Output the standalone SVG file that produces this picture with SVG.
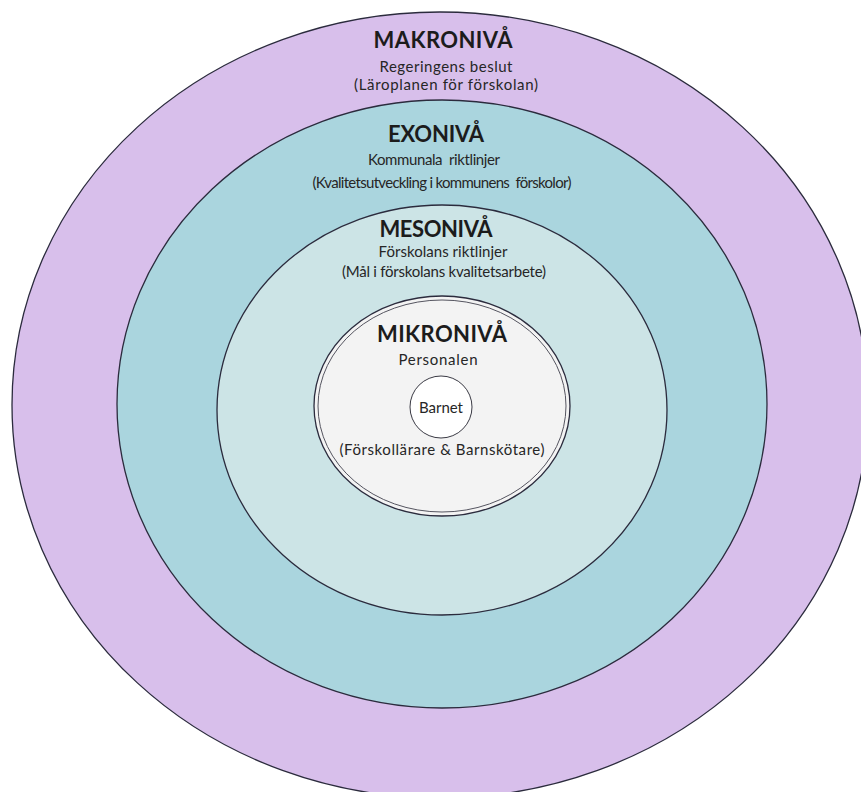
<svg xmlns="http://www.w3.org/2000/svg" width="861" height="792" viewBox="0 0 861 792">
<style>
.ring{stroke:#2b2b3d;stroke-width:1.3}
.h{font-family:Lato,"Open Sans","Liberation Sans",sans-serif;font-weight:bold;font-size:22px;fill:#1c1c1c;text-anchor:middle}
.t{font-family:Lato,"Open Sans","Liberation Sans",sans-serif;font-size:15px;fill:#262626;text-anchor:middle;white-space:pre}
</style>
<rect width="861" height="792" fill="#ffffff"/>
<g id="makro">
<ellipse class="ring" cx="440" cy="405" rx="428" ry="393" fill="#d8bfeb"/>
<text class="h" x="443" y="48" textLength="139">MAKRONIVÅ</text>
<text class="t" x="446" y="72" textLength="133">Regeringens beslut</text>
<text class="t" x="446" y="90" textLength="184">(Läroplanen för förskolan)</text>
</g>
<g id="exo">
<ellipse class="ring" cx="442" cy="404" rx="325" ry="304" fill="#aad5de"/>
<text class="h" x="436" y="142" textLength="96">EXONIVÅ</text>
<text class="t" x="434" y="165" textLength="132" xml:space="preserve">Kommunala  riktlinjer</text>
<text class="t" x="442" y="188" textLength="259" xml:space="preserve">(Kvalitetsutveckling i kommunens  förskolor)</text>
</g>
<g id="meso">
<ellipse class="ring" cx="442" cy="410" rx="225" ry="205" fill="#cce4e6"/>
<text class="h" x="436" y="237" textLength="113">MESONIVÅ</text>
<text class="t" x="443" y="257" textLength="129">Förskolans riktlinjer</text>
<text class="t" x="444" y="277" textLength="204">(Mål i förskolans kvalitetsarbete)</text>
</g>
<g id="mikro">
<ellipse class="ring" cx="442" cy="406" rx="128" ry="110" fill="#f3f3f3"/>
<ellipse cx="442" cy="406" rx="124" ry="106" fill="#f3f3f3" stroke="#555560" stroke-width="1"/>
<text class="h" x="442" y="342" textLength="130">MIKRONIVÅ</text>
<text class="t" x="438" y="365" textLength="79">Personalen</text>
<text class="t" x="442" y="455" textLength="205">(Förskollärare &amp; Barnskötare)</text>
</g>
<g id="barnet">
<circle cx="441" cy="407" r="31" fill="#ffffff" stroke="#3a3a44" stroke-width="1"/>
<text class="t" x="441" y="413" textLength="44">Barnet</text>
</g>
</svg>
